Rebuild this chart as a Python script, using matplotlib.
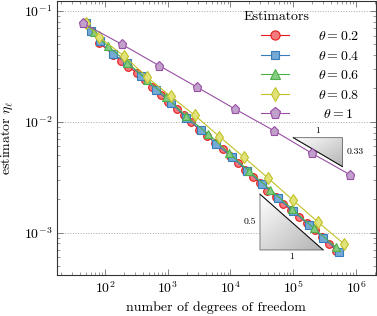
import numpy as np
import matplotlib
matplotlib.use('Agg')
import matplotlib.pyplot as plt
from matplotlib.patches import Polygon

# police type LaTeX
plt.rcParams['font.family'] = 'serif'
plt.rcParams['font.serif'] = ['cmr10']
plt.rcParams['mathtext.fontset'] = 'cm'
plt.rcParams['axes.formatter.use_mathtext'] = True
plt.rcParams['font.size'] = 10

##### données (ddl, estimateur) pour chaque theta

ndof_02 = [50, 81, 136, 178, 235, 327, 434, 571, 780, 1020, 1390, 1837, 2388,
           3185, 4266, 5768, 7516, 9930, 13300, 17330, 22590, 29510, 38560,
           52480, 69340, 93700, 124700, 167500, 224500, 283900, 375800, 479500]
eta_02 = [0.0784, 0.0518, 0.0401, 0.0354, 0.03145, 0.02742, 0.02384, 0.02063,
          0.01747, 0.01504, 0.01306, 0.01141, 0.00997, 0.00844, 0.00746,
          0.00640, 0.00563, 0.00492, 0.00423, 0.00368, 0.00320, 0.00279,
          0.00240, 0.00209, 0.00183, 0.00159, 0.001394, 0.001224, 0.001058,
          0.000905, 0.000791, 0.000688]

ndof_04 = [50, 60, 82, 134, 222, 379, 657, 1139, 1975, 3425, 5937, 10560,
           18660, 32120, 57150, 100200, 176300, 303400, 535800]
eta_04 = [0.0784, 0.0664, 0.0533, 0.0409, 0.0342, 0.02608, 0.01926, 0.01489,
          0.01083, 0.00839, 0.00631, 0.00479, 0.00360, 0.00275, 0.002056,
          0.001553, 0.001181, 0.000896, 0.000674]

ndof_06 = [50, 66, 110, 227, 467, 948, 1975, 4379, 9361, 19710, 43090, 96580,
           212600, 485600]
eta_06 = [0.0784, 0.0640, 0.0483, 0.0343, 0.02384, 0.01676, 0.01122, 0.00782,
          0.00527, 0.00360, 0.002443, 0.001636, 0.001091, 0.000738]

ndof_08 = [50, 80, 201, 472, 1126, 2719, 6676, 16410, 40330, 100200, 250700,
           636800]
eta_08 = [0.0784, 0.0583, 0.0393, 0.02522, 0.01693, 0.01141, 0.00735, 0.00479,
          0.003083, 0.001952, 0.001241, 0.000796]

ndof_1 = [45, 185, 733, 2958, 11800, 49340, 199000, 811400]
eta_1 = [0.0774, 0.0501, 0.0321, 0.0205, 0.01306, 0.00832, 0.0052, 0.00332]

labels = [r'$\theta = 0.2$', r'$\theta = 0.4$', r'$\theta = 0.6$',
          r'$\theta = 0.8$', r'$\;\,\theta = 1$']

# triangles de pente : (x gauche, x droite, y de reference, pente)
tri_haut = (1.0e5, 6.1e5, 7.2e-3, 1/3)
tri_bas = (2.95e4, 3.0e5, 6.98e-4, 0.5)

##### tracé

couleurs = ['#e41a1c', '#377eb8', '#4daf4a', '#c2c228', '#984ea3']
faces = ['#f27c7d', '#75a9d6', '#86cc82', '#e2e27a', '#c2a0cc']
marqueurs = ['o', 's', '^', 'd', 'p']
tailles = [5.5, 5.2, 6, 6.3, 6.8]

series = [(ndof_02, eta_02), (ndof_04, eta_04), (ndof_06, eta_06),
          (ndof_08, eta_08), (ndof_1, eta_1)]

fig = plt.figure(figsize=(3.77, 3.16), dpi=100)
ax = fig.add_axes([57/377, 1-275/316, (375.7-57)/377, (274.5)/316])

lignes = []
for i in range(len(series)):
    n, e = series[i]
    l, = ax.plot(n, e, color=couleurs[i], lw=0.8, marker=marqueurs[i],
                 ms=tailles[i], mfc=faces[i], mec=couleurs[i], mew=0.8,
                 zorder=3+i)
    lignes.append(l)

ax.set_xscale('log')
ax.set_yscale('log')
xlim = (17.2, 2.06e6)
ylim = (4.15e-4, 0.1244)
ax.set_xlim(xlim)
ax.set_ylim(ylim)

# triangles avec degradé gris
def triangle(t, haut):
    x0, x1, y, p = t
    if haut:
        pts = [(x0, y), (x1, y), (x1, y*(x1/x0)**(-p))]
        hyp = [pts[0], pts[2]]
    else:
        pts = [(x0, y*(x1/x0)**p), (x0, y), (x1, y)]
        hyp = [pts[0], pts[2]]
    poly = Polygon(pts, closed=True, facecolor='none', edgecolor='#666666',
                   lw=0.6, zorder=2)
    ax.add_patch(poly)
    pa = (ax.transData + ax.transAxes.inverted()).transform(pts)
    u0, v0 = pa.min(0)
    u1, v1 = pa.max(0)
    uu, vv = np.meshgrid(np.linspace(0, 1, 64), np.linspace(0, 1, 64))
    grad = 1 - 0.3*(0.5*uu + 0.5*(1-vv))
    im = ax.imshow(grad, extent=(u0, u1, v0, v1), transform=ax.transAxes,
                   cmap='gray', vmin=0, vmax=1, origin='lower',
                   aspect='auto', zorder=1.5, interpolation='bilinear')
    im.set_clip_path(poly)
    ax.plot([hyp[0][0], hyp[1][0]], [hyp[0][1], hyp[1][1]], color='#111111',
            lw=0.7, zorder=2.1)
    return pts

p1 = triangle(tri_haut, True)
ax.annotate('1', xy=(np.sqrt(p1[0][0]*p1[1][0]), p1[0][1]), xytext=(0, 2),
            textcoords='offset points', ha='center', va='bottom', fontsize=7)
ax.annotate('0.33', xy=(p1[1][0], np.sqrt(p1[1][1]*p1[2][1])), xytext=(3, 0),
            textcoords='offset points', ha='left', va='center', fontsize=7)

p2 = triangle(tri_bas, False)
ax.annotate('0.5', xy=(p2[0][0], np.sqrt(p2[0][1]*p2[1][1])), xytext=(-3, 0),
            textcoords='offset points', ha='right', va='center', fontsize=7)
ax.annotate('1', xy=(np.sqrt(p2[1][0]*p2[2][0]), p2[1][1]), xytext=(0, -2),
            textcoords='offset points', ha='center', va='top', fontsize=7)

ax.set_xlim(xlim)
ax.set_ylim(ylim)

# axes, graduations, grille
ax.tick_params(which='both', direction='in', top=True, right=True,
               color='#707070')
ax.tick_params(which='major', length=4, width=0.6)
ax.tick_params(which='minor', length=2.5, width=0.5)
for s in ax.spines.values():
    s.set_color('#333333')
    s.set_linewidth(0.8)
ax.yaxis.grid(True, which='major', linestyle=':', color='#a8a8a8', lw=0.7)
ax.set_axisbelow(True)

ax.set_xlabel('number of degrees of freedom', labelpad=4)
ax.set_ylabel(r'estimator $\eta_\ell$', labelpad=6)

# légende
fig.text(277/377, 1-17/316, 'Estimators', ha='center', va='center')
ax.legend(lignes, labels, loc='upper left',
          bbox_to_anchor=(261/377, 1-30/316), bbox_transform=fig.transFigure,
          frameon=False, borderaxespad=0, borderpad=0, handlelength=2.0,
          handletextpad=2.1, labelspacing=0.47, markerscale=1.2)

fig.savefig('out.png', dpi=100)
